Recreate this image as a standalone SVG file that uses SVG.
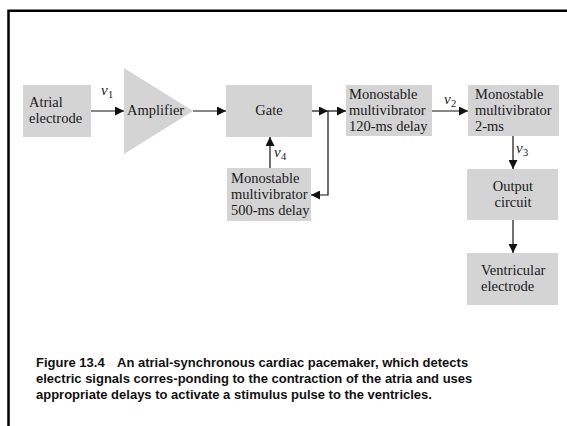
<svg xmlns="http://www.w3.org/2000/svg" width="567" height="426" viewBox="0 0 567 426">
<style>
.box{fill:#d4d4d4;stroke:none}
.t{font-family:"Liberation Serif","Times New Roman",serif;font-size:14.5px;fill:#1a1a1a}
.c{text-anchor:middle}
.v{font-family:"Liberation Serif","Times New Roman",serif;font-style:italic;font-size:15px;fill:#1a1a1a}
.sub{font-family:"Liberation Serif","Times New Roman",serif;font-size:10.5px;fill:#1a1a1a}
.ln{fill:none;stroke:#111;stroke-width:1.2}
.cap{font-family:"Liberation Sans",Arial,sans-serif;font-weight:bold;font-size:13px;fill:#111}
</style>
<defs>
<marker id="ah" viewBox="0 0 10 10" refX="10" refY="5" markerWidth="9" markerHeight="9" markerUnits="userSpaceOnUse" orient="auto">
<path d="M0,0 L10,5 L0,10 z" fill="#111"/>
</marker>
</defs>
<rect width="567" height="426" fill="#fff"/>
<path d="M8.5,426 V10.8 H567" fill="none" stroke="#000" stroke-width="2.5"/>

<g id="atrial">
<rect class="box" x="23" y="85" width="68" height="52"/>
<text class="t" x="29" y="107">Atrial</text>
<text class="t" x="29" y="123">electrode</text>
</g>
<g id="amplifier">
<polygon points="124,68 124,154 193,111" fill="#d4d4d4"/>
<text class="t" x="127" y="115">Amplifier</text>
</g>
<g id="gate">
<rect class="box" x="226" y="85" width="86" height="52"/>
<text class="t c" x="269" y="115">Gate</text>
</g>
<g id="mono500">
<rect class="box" x="227" y="168" width="84" height="53"/>
<text class="t" x="231" y="183">Monostable</text>
<text class="t" x="231" y="199">multivibrator</text>
<text class="t" x="231" y="215">500-ms delay</text>
</g>
<g id="mono120">
<rect class="box" x="346" y="85" width="86" height="51"/>
<text class="t" x="349" y="99">Monostable</text>
<text class="t" x="349" y="115">multivibrator</text>
<text class="t" x="349" y="131">120-ms delay</text>
</g>
<g id="mono2">
<rect class="box" x="468" y="85" width="91" height="51"/>
<text class="t" x="475" y="99">Monostable</text>
<text class="t" x="475" y="115">multivibrator</text>
<text class="t" x="475" y="131">2-ms</text>
</g>
<g id="output">
<rect class="box" x="467" y="169" width="91" height="51"/>
<text class="t c" x="513" y="191">Output</text>
<text class="t c" x="513" y="207">circuit</text>
</g>
<g id="ventricular">
<rect class="box" x="467" y="253" width="91" height="52"/>
<text class="t" x="481" y="275">Ventricular</text>
<text class="t" x="481" y="291">electrode</text>
</g>

<g id="connectors">
<path class="ln" d="M91,111 H124" marker-end="url(#ah)"/>
<path class="ln" d="M193,111 H226" marker-end="url(#ah)"/>
<path class="ln" d="M312,111 H328" marker-end="url(#ah)"/>
<path class="ln" d="M328,111 H346" marker-end="url(#ah)"/>
<path class="ln" d="M328,111 V195 H311" marker-end="url(#ah)"/>
<path class="ln" d="M270,168 V137" marker-end="url(#ah)"/>
<path class="ln" d="M432,111 H468" marker-end="url(#ah)"/>
<path class="ln" d="M513,136 V169" marker-end="url(#ah)"/>
<path class="ln" d="M513,220 V253" marker-end="url(#ah)"/>
</g>

<g id="labels">
<text class="v" x="101" y="95">v</text><text class="sub" x="108" y="98">1</text>
<text class="v" x="444" y="104">v</text><text class="sub" x="451" y="107">2</text>
<text class="v" x="516" y="153">v</text><text class="sub" x="523" y="156">3</text>
<text class="v" x="274" y="157">v</text><text class="sub" x="281" y="160">4</text>
</g>

<g id="caption">
<text class="cap" x="36" y="367">Figure 13.4<tspan x="117">An atrial-synchronous cardiac pacemaker, which detects</tspan></text>
<text class="cap" x="36" y="383">electric signals corres-ponding to the contraction of the atria and uses</text>
<text class="cap" x="36" y="399">appropriate delays to activate a stimulus pulse to the ventricles.</text>
</g>
</svg>
